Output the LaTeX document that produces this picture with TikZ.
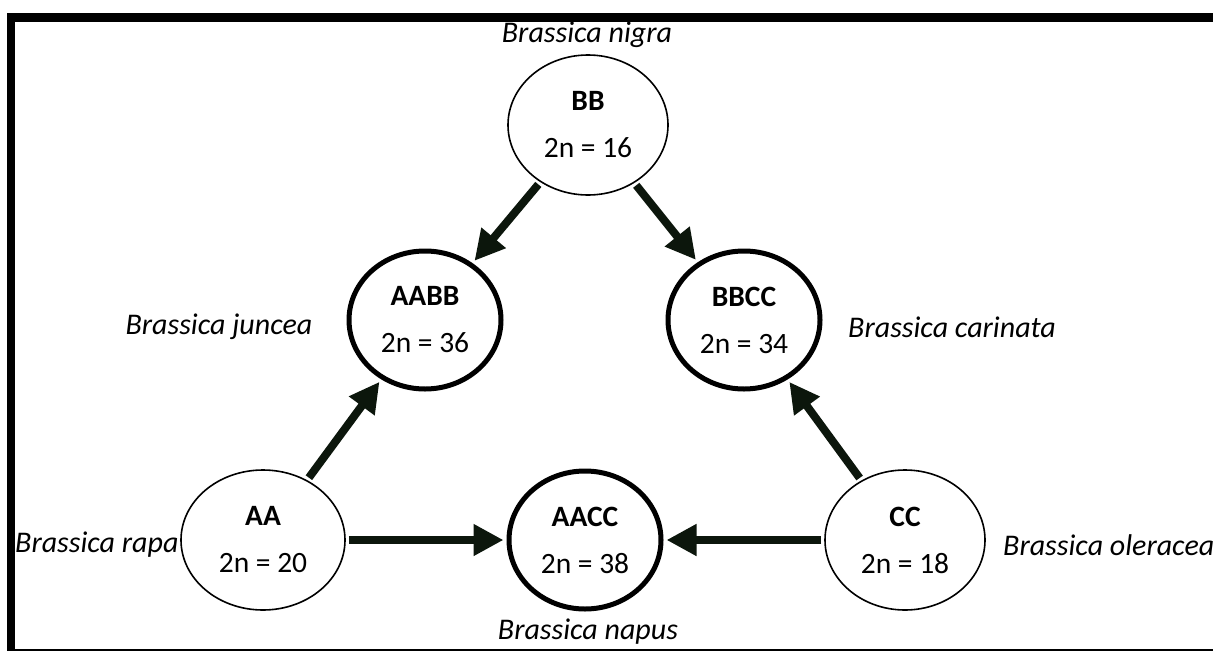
\documentclass[tikz,border=0pt]{standalone}
\usepackage{fontspec}
\setmainfont{Carlito}
\usetikzlibrary{shapes.geometric,arrows.meta}
\definecolor{arrowcol}{RGB}{12,22,12}
\tikzset{
  genome/.style={ellipse,draw=black,line width=1.6pt,minimum width=160pt,minimum height=140pt,inner sep=0pt,align=center,font=\fontsize{29.5}{47}\selectfont},
  hybrid/.style={genome,line width=5pt,minimum width=152pt,minimum height=138pt},
  species/.style={font=\fontsize{30}{32}\selectfont\itshape,inner sep=0pt},
  cross/.style={draw=arrowcol,line width=8pt,-{Triangle[length=30pt,width=30pt]},shorten >=3pt,shorten <=3pt},
}
\begin{document}
\begin{tikzpicture}[x=1pt,y=-1pt]
\useasboundingbox (0,0) rectangle (1213,651);
\fill[white] (0,0) rectangle (1213,651);
% frame
\coordinate (ftl) at (7,17.5);
\coordinate (ftr) at (1213,17.5);
\coordinate (flt) at (11,13);
\coordinate (flb) at (11,651);
\coordinate (fbl) at (7,649.8);
\coordinate (fbr) at (1213,649.8);
\draw[line width=8.5pt] (ftl) -- (ftr);
\draw[line width=8pt] (flt) -- (flb);
\draw[line width=2pt] (fbl) -- (fbr);
% genomes
\node[genome] (BB) at (588,125) {\textbf{BB}\\2n = 16};
\node[hybrid] (AABB) at (425,320) {\textbf{AABB}\\2n = 36};
\node[hybrid] (BBCC) at (744,320) {\textbf{BBCC}\\2n = 34};
\node[genome,minimum width=164pt] (AA) at (263,540) {\textbf{AA}\\2n = 20};
\node[hybrid] (AACC) at (585,540) {\textbf{AACC}\\2n = 38};
\node[genome] (CC) at (905,540) {\textbf{CC}\\2n = 18};
% species
\node[species] (nigra) at (587,35) {Brassica nigra};
\node[species] (juncea) at (219,327) {Brassica juncea};
\node[species] (carinata) at (952,327) {Brassica carinata};
\node[species,anchor=west] (rapa) at (15,545) {Brassica rapa};
\node[species] (napus) at (588,632) {Brassica napus};
\node[species,anchor=west] (oleracea) at (1003,545) {Brassica oleracea};
% crosses
\draw[cross] (BB) -- (AABB);
\draw[cross] (BB) -- (BBCC);
\draw[cross] (AA) -- (AABB);
\draw[cross] (AA) -- (AACC);
\draw[cross] (CC) -- (AACC);
\draw[cross] (CC) -- (BBCC);
\end{tikzpicture}
\end{document}
